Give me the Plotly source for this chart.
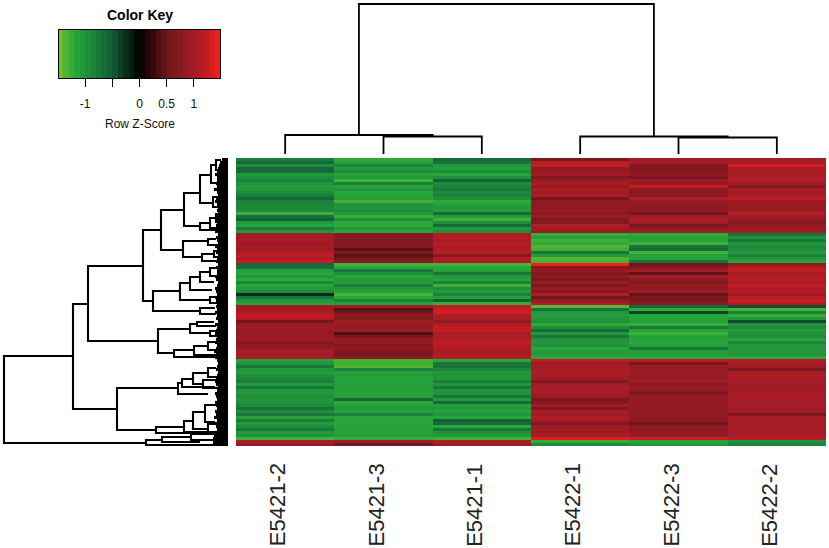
import plotly.graph_objects as go

FONT = "Liberation Sans"

COLUMNS = ["E5421-2", "E5421-3", "E5421-1", "E5422-1", "E5422-3", "E5422-2"]

# row z-scores, one line per row, in six clusters
CLUSTER_A = [
    [-0.80, -1.22, -0.62, 0.62, 0.95, 0.98],
    [-0.62, -1.10, -0.70, 1.18, 1.02, 1.02],
    [-0.95, -0.85, -1.02, 1.22, 0.72, 1.30],
    [-0.60, -1.05, -1.12, 0.85, 0.70, 1.05],
    [-0.62, -0.95, -0.95, 0.90, 0.72, 1.00],
    [-1.05, -1.12, -1.18, 0.92, 0.80, 1.05],
    [-0.95, -1.05, -0.98, 0.68, 0.62, 1.08],
    [-0.85, -1.28, -0.55, 0.92, 0.95, 1.10],
    [-1.00, -0.80, -0.92, 1.05, 0.85, 0.95],
    [-1.08, -1.12, -0.85, 0.85, 1.25, 0.70],
    [-1.05, -1.00, -0.78, 1.10, 0.78, 1.00],
    [-0.92, -1.18, -0.90, 0.95, 0.72, 0.98],
    [-0.78, -1.12, -0.82, 1.05, 0.78, 1.02],
    [-0.60, -1.10, -0.95, 0.52, 1.10, 1.25],
    [-0.85, -1.32, -1.22, 0.82, 0.85, 0.92],
    [-0.88, -0.98, -1.12, 0.80, 0.80, 0.90],
    [-0.90, -1.02, -1.05, 0.82, 0.78, 0.88],
    [-0.92, -0.95, -1.10, 0.85, 0.82, 0.90],
    [-1.28, -1.05, -0.62, 0.78, 0.55, 1.15],
    [-0.65, -1.25, -1.05, 0.92, 0.95, 0.95],
    [-0.55, -0.95, -1.28, 0.70, 1.05, 0.88],
    [-1.05, -1.20, -0.95, 0.72, 0.98, 0.70],
    [-1.15, -1.22, -0.58, 1.08, 0.58, 0.85],
    [-0.78, -1.05, -1.05, 0.95, 0.85, 0.95],
    [-1.02, -1.18, -0.95, 0.88, 0.92, 0.95],
]
CLUSTER_B = [
    [1.00, 0.72, 1.12, -1.25, -1.22, -0.72],
    [0.98, 0.78, 1.15, -1.12, -1.10, -0.98],
    [1.02, 0.70, 1.02, -1.28, -1.15, -0.72],
    [0.92, 0.75, 1.18, -1.22, -1.28, -1.02],
    [1.02, 0.72, 0.98, -1.35, -0.72, -0.92],
    [0.95, 0.42, 1.10, -1.28, -0.62, -0.95],
    [1.12, 0.68, 1.18, -0.72, -1.30, -1.08],
    [1.25, 0.40, 0.72, -1.05, -1.12, -0.85],
    [0.98, 0.55, 1.12, -1.35, -1.15, -1.02],
    [1.25, 0.72, 1.02, -1.30, -0.70, -1.15],
]
CLUSTER_C = [
    [-0.62, -1.30, -1.32, 1.48, 0.50, 0.82],
    [-0.68, -1.18, -1.18, 0.72, 0.72, 1.10],
    [-1.10, -0.72, -1.12, 0.88, 0.95, 1.22],
    [-1.20, -0.95, -0.72, 0.70, 0.42, 1.05],
    [-1.02, -1.18, -1.02, 0.82, 1.02, 1.10],
    [-1.22, -1.05, -1.15, 0.58, 0.78, 1.15],
    [-0.90, -1.10, -0.85, 0.92, 0.72, 1.02],
    [-1.18, -0.80, -1.28, 0.65, 0.88, 1.22],
    [-1.05, -1.02, -0.95, 0.88, 0.80, 1.08],
    [-0.95, -1.12, -1.05, 0.72, 0.95, 1.15],
    [-0.22, -1.32, -0.85, 1.05, 0.45, 0.92],
    [-0.72, -1.20, -1.08, 0.55, 0.60, 1.15],
    [-1.02, -0.85, -0.55, 0.85, 0.62, 1.28],
    [-1.15, -1.10, -1.25, 1.05, 0.78, 1.12],
]
CLUSTER_D = [
    [0.95, 1.00, 1.20, -1.38, -0.62, -0.42],
    [0.92, 0.40, 1.28, -0.70, -1.22, -1.30],
    [1.08, 0.55, 1.32, -1.02, -0.38, -0.82],
    [1.25, 0.78, 1.05, -1.10, -1.18, -1.25],
    [1.10, 0.72, 1.02, -1.00, -1.15, -1.05],
    [0.55, 0.95, 0.80, -0.98, -1.12, -0.40],
    [0.90, 0.88, 1.12, -1.22, -1.25, -1.02],
    [0.92, 0.85, 1.22, -0.95, -0.72, -0.92],
    [0.88, 0.92, 1.25, -0.62, -1.15, -1.05],
    [0.85, 0.35, 1.05, -1.02, -1.28, -0.98],
    [0.90, 0.62, 1.12, -0.72, -1.12, -0.92],
    [0.95, 0.88, 1.08, -0.98, -1.15, -1.15],
    [0.72, 0.85, 1.22, -1.02, -1.18, -0.88],
    [0.78, 0.72, 1.15, -0.98, -1.12, -1.02],
    [0.88, 0.80, 1.10, -1.18, -0.75, -1.05],
    [1.08, 0.68, 1.02, -1.08, -1.10, -1.00],
    [1.00, 0.62, 1.05, -1.05, -1.12, -0.98],
    [1.02, 0.82, 1.15, -1.20, -1.18, -1.18],
]
CLUSTER_E = [
    [-1.12, -1.30, -1.18, 1.22, 1.22, 1.12],
    [-1.02, -1.28, -0.72, 0.95, 0.62, 1.02],
    [-0.75, -1.35, -0.70, 1.00, 0.90, 0.95],
    [-1.00, -0.85, -0.88, 0.98, 0.88, 0.65],
    [-1.08, -1.12, -1.05, 1.10, 0.92, 1.00],
    [-0.95, -1.08, -1.00, 1.02, 0.85, 1.10],
    [-0.88, -1.12, -1.02, 0.95, 0.88, 1.02],
    [-0.80, -1.15, -0.78, 0.70, 0.95, 1.00],
    [-1.05, -1.10, -1.00, 0.95, 0.82, 0.98],
    [-0.72, -1.12, -0.72, 1.02, 0.90, 0.95],
    [-1.02, -1.10, -1.02, 0.98, 0.78, 1.00],
    [-1.05, -1.12, -0.98, 1.00, 0.70, 0.98],
    [-0.95, -1.15, -0.72, 0.92, 0.85, 1.05],
    [-1.00, -0.60, -1.05, 0.62, 0.85, 1.00],
    [-0.98, -1.22, -0.62, 0.72, 0.88, 0.98],
    [-0.88, -1.10, -1.10, 0.95, 0.80, 1.02],
    [-0.70, -1.05, -1.05, 0.68, 0.85, 0.95],
    [-0.95, -1.12, -1.15, 1.02, 0.82, 1.00],
    [-0.75, -0.85, -1.02, 0.92, 0.80, 0.62],
    [-1.12, -1.15, -1.18, 1.12, 0.82, 1.05],
    [-0.80, -1.18, -0.55, 0.95, 0.82, 0.98],
    [-1.08, -1.18, -0.62, 0.70, 0.50, 1.00],
    [-0.95, -1.15, -1.20, 0.92, 0.80, 1.05],
    [-0.78, -1.12, -0.72, 0.98, 0.78, 1.00],
    [-1.05, -1.15, -0.98, 0.95, 0.85, 1.02],
    [-0.98, -1.10, -1.05, 1.00, 0.85, 0.98],
    [-1.30, -1.25, -1.28, 1.38, 1.30, 1.15],
]
CLUSTER_F = [
    [1.02, 0.95, 1.05, -1.22, -1.15, -0.98],
    [0.90, 0.62, 0.95, -0.95, -1.05, -0.85],
]
ROWS = CLUSTER_A + CLUSTER_B + CLUSTER_C + CLUSTER_D + CLUSTER_E + CLUSTER_F

KEY_VALUES = [
    -1.45, -1.35, -1.25, -1.15, -1.05, -0.95, -0.85, -0.75, -0.65, -0.55,
    -0.45, -0.35, -0.25, -0.15, -0.05, 0.05, 0.15, 0.25, 0.35, 0.45,
    0.55, 0.65, 0.75, 0.85, 0.95, 1.05, 1.15, 1.25, 1.35, 1.45,
]
KEY_TICKS = [-1, -0.5, 0, 0.5, 1]
KEY_TICK_TEXT = ["-1", "", "0", "0.5", "1"]

# column dendrogram: left position, right position, merge height
COL_LEFT = [1, 0, 4, 3, 0.75]
COL_RIGHT = [2, 1.5, 5, 4.5, 3.75]
COL_HEIGHT = [21.5, 23, 20.5, 21.5, 154]
COL_LEFT_CHILD = [4, 4, 4, 4, 23]
COL_RIGHT_CHILD = [4, 21.5, 4, 20.5, 21.5]

# row dendrogram: merge height, top and bottom leaf position, height of each child
NODE_H = [224, 155, 140, 85, 67, 44, 28, 17, 12, 10, 15, 28, 18, 12, 45, 20, 26, 14,
          75, 48, 38, 28, 18, 18, 28, 70, 38, 31, 18, 54, 34, 20, 111, 50, 46, 35,
          20, 25, 72, 44, 35, 23, 20, 82, 66, 37]
NODE_TOP = [198, 146, 108, 72, 52, 35, 17, 7, 2, 20, 39, 65, 60, 56, 83, 81, 96, 93,
            133, 125, 119, 114, 110, 139, 150, 171, 166, 164, 173, 192, 188, 184, 230, 225, 221, 215,
            210, 222, 269, 263, 254, 247, 266, 282, 279, 276]
NODE_BOTTOM = [285, 251, 183, 143, 92, 68, 45, 25, 12, 30, 49, 72, 70, 64, 99, 87, 103, 99,
               153, 142, 132, 124, 118, 145, 156, 195, 175, 168, 178, 199, 197, 192, 272, 236, 229, 226,
               219, 230, 275, 274, 271, 264, 275, 287, 284, 282]
NODE_TOP_CHILD = [155, 140, 85, 67, 44, 28, 17, 12, 7, 6, 9, 18, 12, 7, 20, 12, 14, 8,
                  48, 38, 28, 18, 10, 8, 13, 38, 31, 14, 10, 34, 20, 10, 50, 46, 35, 20,
                  12, 10, 44, 35, 23, 12, 6, 66, 37, 14]
NODE_BOTTOM_CHILD = [82, 111, 70, 75, 45, 28, 15, 10, 7, 6, 8, 8, 10, 7, 26, 10, 12, 7,
                     28, 18, 16, 14, 8, 8, 12, 54, 18, 12, 8, 6, 12, 8, 72, 20, 13, 25,
                     10, 8, 6, 8, 20, 13, 5, 6, 28, 12]

# length of the black leaf ends at each heatmap row
LEAF_DEPTH = [6, 8, 9, 10, 11, 13, 11, 10, 12, 11, 14, 11, 10, 12, 13, 11, 10, 11, 10, 12, 13, 11, 12, 11, 13,
              10, 12, 11, 10, 13, 11, 12, 10, 11, 12,
              10, 12, 11, 11, 13, 12, 10, 11, 13, 12, 11, 13, 12, 11,
              12, 11, 13, 11, 12, 10, 13, 11, 12, 13, 11, 12, 13, 11, 12, 14, 12, 13,
              11, 10, 11, 12, 10, 11, 12, 13, 12, 10, 11, 13, 12, 11, 13, 12, 11, 13, 12, 14, 11, 13, 12, 11, 13, 14, 15,
              15, 15]

COLORSCALE = [
    [0.0, "rgb(115,192,50)"],
    [0.095, "rgb(40,168,58)"],
    [0.162, "rgb(33,148,60)"],
    [0.331, "rgb(18,92,55)"],
    [0.5, "rgb(0,0,0)"],
    [0.669, "rgb(110,22,28)"],
    [0.838, "rgb(165,28,38)"],
    [0.905, "rgb(188,28,35)"],
    [1.0, "rgb(245,30,25)"],
]


def col_segments():
    xs, ys = [], []
    for left, right, h, lc, rc in zip(COL_LEFT, COL_RIGHT, COL_HEIGHT, COL_LEFT_CHILD, COL_RIGHT_CHILD):
        xs += [left, left, right, right, None]
        ys += [lc, h, h, rc, None]
    return xs, ys


def row_segments():
    xs, ys = [], []
    for h, top, bottom, tc, bc in zip(NODE_H, NODE_TOP, NODE_BOTTOM, NODE_TOP_CHILD, NODE_BOTTOM_CHILD):
        xs += [tc, h, h, bc, None]
        ys += [top, top, bottom, bottom, None]
    return xs, ys


def leaf_segments():
    xs, ys = [], []
    for i, depth in enumerate(LEAF_DEPTH):
        xs += [0, depth, None]
        ys += [3 * i + 1.5, 3 * i + 1.5, None]
    return xs, ys


W, H = 829, 548
fig = go.Figure()

fig.add_trace(go.Heatmap(
    z=ROWS, colorscale=COLORSCALE, zmin=-1.48, zmax=1.48, showscale=False,
    xaxis="x", yaxis="y",
))
fig.add_trace(go.Heatmap(
    x=KEY_VALUES, y=[0], z=[KEY_VALUES], colorscale=COLORSCALE, zmin=-1.48, zmax=1.48,
    showscale=False, xaxis="x2", yaxis="y2",
))
x, y = col_segments()
fig.add_trace(go.Scatter(x=x, y=y, mode="lines", line={"color": "black", "width": 1.8},
                         xaxis="x3", yaxis="y3", showlegend=False))
x, y = row_segments()
fig.add_trace(go.Scatter(x=x, y=y, mode="lines", line={"color": "black", "width": 2.1},
                         xaxis="x4", yaxis="y4", showlegend=False))
x, y = leaf_segments()
fig.add_trace(go.Scatter(x=x, y=y, mode="lines", line={"color": "black", "width": 3.2},
                         xaxis="x4", yaxis="y4", showlegend=False))

hidden = {"visible": False, "fixedrange": True}
annotations = [
    {"text": "<b>Color Key</b>", "x": 0, "xref": "x2", "xanchor": "center",
     "y": 1 - 15 / H, "yref": "paper", "yanchor": "middle", "showarrow": False,
     "font": {"family": FONT, "size": 14, "color": "black"}},
    {"text": "Row Z-Score", "x": 0, "xref": "x2", "xanchor": "center",
     "y": 1 - 124 / H, "yref": "paper", "yanchor": "middle", "showarrow": False,
     "font": {"family": FONT, "size": 12, "color": "#111111"}},
]
for i, name in enumerate(COLUMNS):
    annotations.append({
        "text": name, "x": i, "xref": "x", "xanchor": "center", "xshift": -8,
        "y": 1 - 548.5 / H, "yref": "paper", "yanchor": "bottom", "showarrow": False,
        "textangle": -90, "font": {"family": FONT, "size": 22, "color": "#222222"},
    })

fig.update_layout(
    width=W, height=H, margin={"l": 0, "r": 0, "t": 0, "b": 0},
    paper_bgcolor="white", plot_bgcolor="white", showlegend=False,
    annotations=annotations,
    xaxis={**hidden, "domain": [236 / W, 826 / W], "range": [-0.5, 5.5]},
    yaxis={**hidden, "domain": [1 - 446 / H, 1 - 158 / H], "range": [95.5, -0.5]},
    xaxis2={"domain": [59 / W, 220 / W], "anchor": "y2", "range": [-1.48, 1.48], "fixedrange": True,
            "tickvals": KEY_TICKS, "ticktext": KEY_TICK_TEXT, "ticks": "outside", "ticklen": 8,
            "tickwidth": 1.4, "tickcolor": "black", "showgrid": False, "zeroline": False,
            "showline": True, "mirror": True, "linecolor": "black", "linewidth": 1,
            "ticklabelstandoff": 7, "tickfont": {"family": FONT, "size": 12, "color": "#111111"}},
    yaxis2={"domain": [1 - 78 / H, 1 - 30 / H], "anchor": "x2", "range": [-0.5, 0.5], "fixedrange": True,
            "showticklabels": False, "ticks": "", "showgrid": False, "zeroline": False,
            "showline": True, "mirror": True, "linecolor": "black", "linewidth": 1},
    xaxis3={**hidden, "domain": [236 / W, 826 / W], "anchor": "y3", "range": [-0.5, 5.5]},
    yaxis3={**hidden, "domain": [1 - 158 / H, 1], "anchor": "x3", "range": [0, 158]},
    xaxis4={**hidden, "domain": [0, 228 / W], "anchor": "y4", "range": [228, 0]},
    yaxis4={**hidden, "domain": [1 - 446 / H, 1 - 158 / H], "anchor": "x4", "range": [288, 0]},
)

# browser default body margin would push the 829x548 figure out of the window
fig.write_html("out.html", config={"displayModeBar": False},
               post_script="document.body.style.margin = '0';")
